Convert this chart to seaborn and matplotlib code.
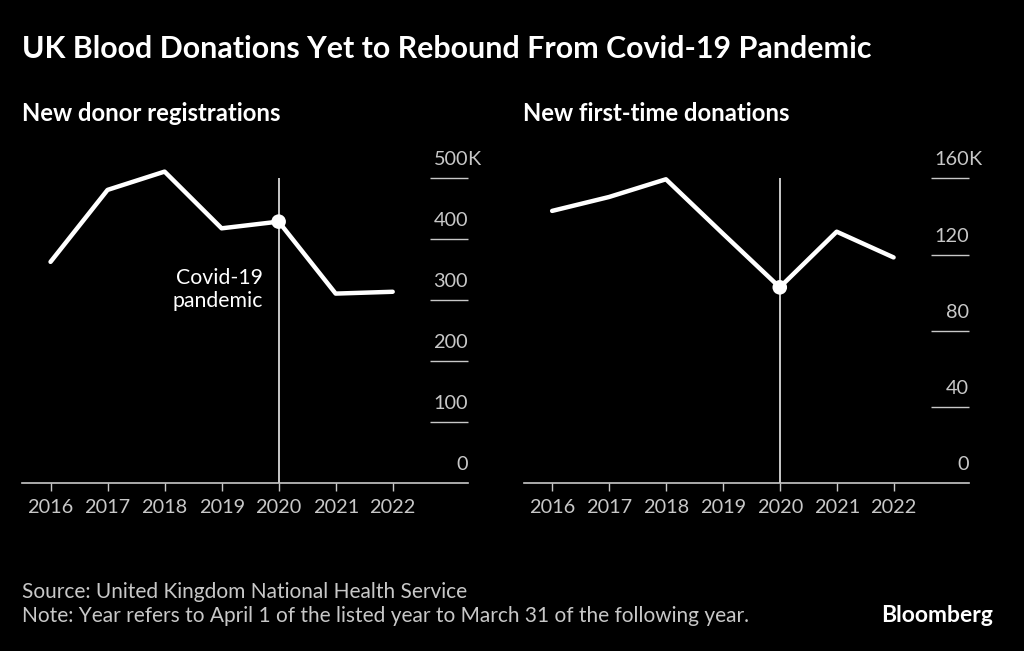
import numpy as np
import pandas as pd
import seaborn as sns
from matplotlib import pyplot as plt
from matplotlib.transforms import offset_copy

years = [2016, 2017, 2018, 2019, 2020, 2021, 2022]
registrations = [363, 481, 511, 418, 429, 311, 314]      # thousands
first_time = [142.9, 150.2, 159.5, 131.0, 102.8, 132.0, 118.5]  # thousands
reg_ticks = [0, 100, 200, 300, 400, 500]
ft_ticks = [0, 40, 80, 120, 160]
pandemic_year = 2020

title = "UK Blood Donations Yet to Rebound From Covid-19 Pandemic"
sub_left = "New donor registrations"
sub_right = "New first-time donations"
source = "Source: United Kingdom National Health Service"
note = "Note: Year refers to April 1 of the listed year to March 31 of the following year."

sns.set_theme(style="dark", rc={"figure.facecolor": "black", "axes.facecolor": "black"})
plt.rcParams['font.family'] = ['Lato', 'DejaVu Sans']

GREY = "#c8c8c8"
fig = plt.figure(figsize=(10.24, 6.51), dpi=100)
ax1 = fig.add_axes([0.0215, 0.2576, 0.4355, 0.4685])
ax2 = fig.add_axes([0.5114, 0.2576, 0.4346, 0.4685])

df1 = pd.DataFrame({"year": years, "value": registrations})
df2 = pd.DataFrame({"year": years, "value": first_time})


def panel(ax, df, ticks):
    ax.axvline(pandemic_year, color="white", lw=1.1, zorder=1)
    sns.lineplot(data=df, x="year", y="value", ax=ax, color="white", lw=3.2, zorder=3,
                 clip_on=False)
    sns.scatterplot(data=df[df.year == pandemic_year], x="year", y="value", ax=ax,
                    color="white", s=110, edgecolor="none", zorder=4, clip_on=False)
    ax.set_xlim(2015.5, 2023.32)
    ax.set_ylim(0, ticks[-1])
    ax.set_xlabel("")
    ax.set_ylabel("")
    ax.grid(False)
    for s in ["top", "left", "right"]:
        ax.spines[s].set_visible(False)
    ax.spines["bottom"].set_color(GREY)
    ax.spines["bottom"].set_linewidth(1.2)
    ax.set_xticks(years)
    ax.set_xticklabels([str(y) for y in years])
    ax.tick_params(axis="x", colors=GREY, labelcolor=GREY, labelsize=14.3,
                   length=6, width=1, direction="out", bottom=True, pad=5)
    ax.yaxis.tick_right()
    ax.set_yticks(ticks[1:])
    ax.tick_params(axis="y", right=True, left=False, direction="in", length=27.5,
                   width=1, colors=GREY, labelright=False, labelleft=False)
    tr = offset_copy(ax.get_yaxis_transform(), fig=fig, x=0, y=13, units="dots")
    for t in ticks:
        ax.text(1.0, t, str(t), transform=tr, ha="right", va="baseline",
                color=GREY, fontsize=14.3)
    trk = offset_copy(ax.get_yaxis_transform(), fig=fig, x=-1, y=13, units="dots")
    ax.text(1.0, ticks[-1], "K", transform=trk, ha="left", va="baseline",
            color=GREY, fontsize=14.3)


panel(ax1, df1, reg_ticks)
panel(ax2, df2, ft_ticks)

tr_note = offset_copy(ax1.transData, fig=fig, x=-16, y=0, units="dots")
ax1.text(pandemic_year, 318, "Covid-19\npandemic", transform=tr_note, ha="right",
         va="center", color="white", fontsize=15.3, linespacing=1.15)

fig.text(0.0215, 0.9104, title, color="white", fontsize=21.9, fontweight="bold", va="baseline")
fig.text(0.0215, 0.8141, sub_left, color="white", fontsize=17.2, fontweight="bold", va="baseline")
fig.text(0.5107, 0.8141, sub_right, color="white", fontsize=17.2, fontweight="bold", va="baseline")
fig.text(0.0215, 0.0814, source, color=GREY, fontsize=15, va="baseline")
fig.text(0.0215, 0.0445, note, color=GREY, fontsize=15, va="baseline")
fig.text(0.9697, 0.045, "Bloomberg", color="white", fontsize=16.5, fontweight="bold",
         ha="right", va="baseline")

fig.savefig("out.png", dpi=100, facecolor="black")
